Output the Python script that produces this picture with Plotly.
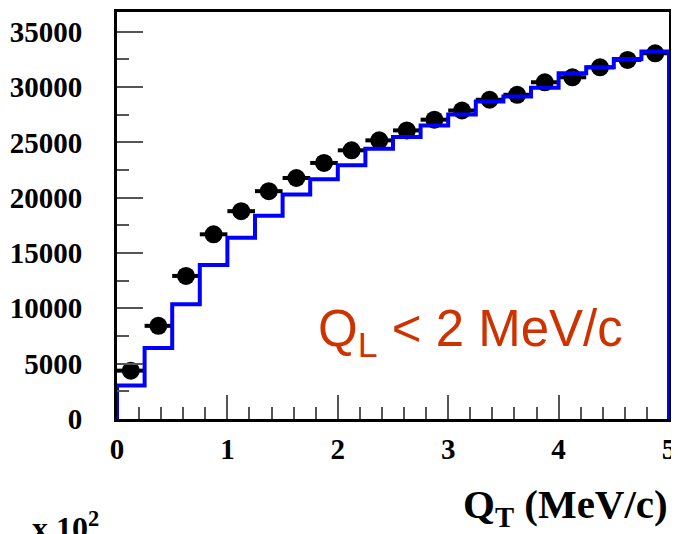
import plotly.graph_objects as go

# ---- data ----
qt_centers = [0.125, 0.375, 0.625, 0.875, 1.125, 1.375, 1.625, 1.875, 2.125, 2.375,
              2.625, 2.875, 3.125, 3.375, 3.625, 3.875, 4.125, 4.375, 4.625, 4.875]
bin_width = 0.25
data_counts = [4370, 8420, 12930, 16690, 18780, 20590, 21780, 23140, 24280, 25180,
               26080, 27050, 27880, 28850, 29300, 30430, 30880, 31780, 32450, 33050]
mc_counts = [3020, 6410, 10380, 13920, 16380, 18360, 20290, 21670, 22930, 24430,
             25480, 26530, 27520, 28690, 29140, 29930, 31240, 31780, 32540, 33220]
x_ticks = [0, 1, 2, 3, 4, 5]
y_ticks = [0, 5000, 10000, 15000, 20000, 25000, 30000, 35000]

# histogram outline as step line
half = bin_width / 2
edges = [c - half for c in qt_centers] + [qt_centers[-1] + half]
hx = [edges[0]] + edges[:-1] + [edges[-1], edges[-1]]
hy = [0] + mc_counts + [mc_counts[-1], 0]

fig = go.Figure()
fig.add_trace(go.Scatter(
    x=qt_centers, y=data_counts, mode="markers",
    marker=dict(symbol="circle", size=18, color="black"),
    error_x=dict(type="constant", value=half, color="black", thickness=4, width=0),
    showlegend=False, cliponaxis=False))
fig.add_trace(go.Scatter(
    x=hx, y=hy, mode="lines", line=dict(color="#0000FF", width=4, shape="hv"),
    showlegend=False, cliponaxis=False))

tickfont = dict(family="Liberation Serif", size=29, color="black", weight="bold")
fig.update_xaxes(range=[0, 5], tickvals=x_ticks, ticktext=[str(v) for v in x_ticks],
                 automargin=False,
                 showgrid=False, zeroline=False, showline=True, linecolor="black",
                 linewidth=3, mirror=True, ticks="inside", ticklen=24, tickwidth=1.5,
                 tickcolor="#555", tickfont=tickfont, ticklabelstandoff=2,
                 minor=dict(ticks="inside", ticklen=12, dtick=0.2, tickwidth=1.5,
                            tickcolor="#555", showgrid=False))
fig.update_yaxes(range=[0, 36780], tickvals=y_ticks, ticktext=[str(v) for v in y_ticks],
                 automargin=False,
                 showgrid=False, zeroline=False, showline=True, linecolor="black",
                 linewidth=3, mirror=True, ticks="inside", ticklen=26, tickwidth=1.5,
                 tickcolor="#555", tickfont=tickfont, ticklabelstandoff=26,
                 minor=dict(ticks="inside", ticklen=12, dtick=2500, tickwidth=1.5,
                            tickcolor="#555", showgrid=False))

fig.add_annotation(x=1.80, y=7800, xref="x", yref="y", xanchor="left", yanchor="middle",
                   text="Q<sub>L</sub> &lt; 2 MeV/c", showarrow=False,
                   font=dict(family="Liberation Sans", size=51, color="#CC3300"))
fig.add_annotation(x=1.002, y=-0.285, xref="paper", yref="paper", xanchor="right",
                   yanchor="bottom", text="<b>Q<sub>T</sub> (MeV/c)</b>", showarrow=False,
                   font=dict(family="Liberation Serif", size=41, color="black"))
fig.add_annotation(x=-0.158, y=-0.21, xref="paper", yref="paper", xanchor="left",
                   yanchor="top", text="<b>x 10<sup>2</sup></b>", showarrow=False,
                   font=dict(family="Liberation Serif", size=32, color="black"))

# page body adds an 8px margin; margins keep the frame inside the visible window
fig.update_layout(width=671, height=526, margin=dict(l=109, r=10, t=4, b=114.5),
                  plot_bgcolor="white", paper_bgcolor="white")
fig.write_html("out.html")
